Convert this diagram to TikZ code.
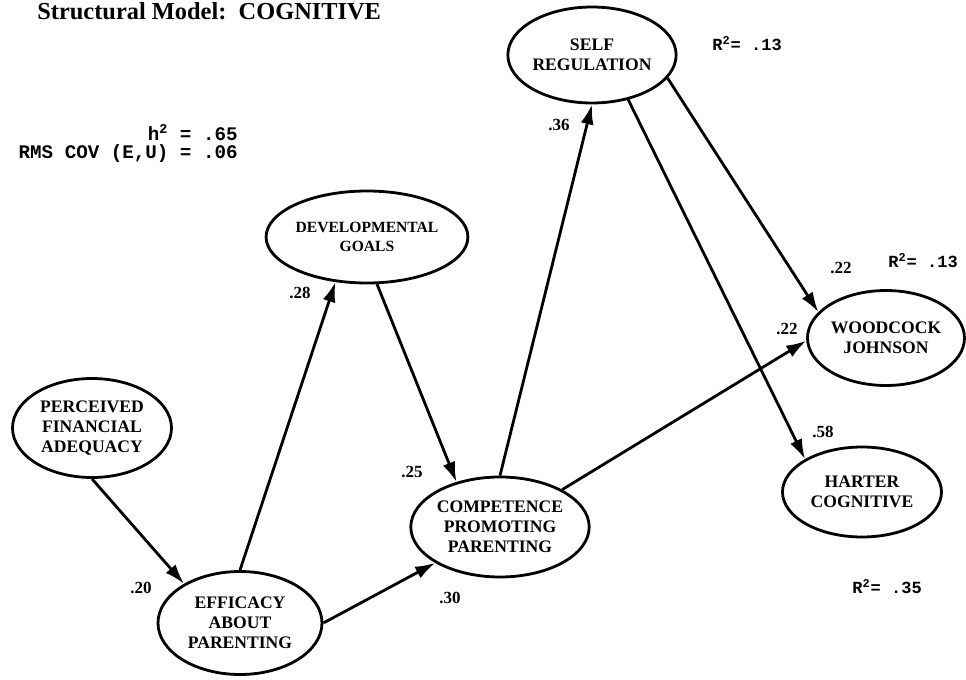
\documentclass[tikz,border=0pt]{standalone}
\usepackage{fontspec}
\setmainfont{Liberation Serif}
\setmonofont{Liberation Mono}
\usetikzlibrary{arrows.meta,shapes.geometric}

\begin{document}
\begin{tikzpicture}[x=0.5pt,y=-0.5pt,
  latent/.style={draw,ellipse,line width=1.4pt,inner sep=0pt,align=center,
    font=\bfseries\fontsize{8.8}{10}\selectfont},
  effect/.style={line width=1.4pt,-{Latex[length=10pt,width=6.5pt]}},
  coef/.style={font=\bfseries\fontsize{8.5}{10}\selectfont},
  rsq/.style={anchor=base west,inner sep=0pt,font=\ttfamily\bfseries\fontsize{8.5}{10}\selectfont}]
\useasboundingbox (0,0) rectangle (966,680);

\node[anchor=base west,inner sep=0pt,font=\bfseries\fontsize{12.2}{14}\selectfont] (title) at (37,19) {Structural Model:\ \ COGNITIVE};
\node[anchor=south east,inner sep=0pt,align=right,font=\ttfamily\bfseries\fontsize{9.6}{9}\selectfont] (fitstats) at (238,163) {h\textsuperscript{2} = .65\\RMS COV (E,U) = .06};

\node[latent,minimum width=79.5pt,minimum height=49.5pt] (perceived) at (92,428) {PERCEIVED\\FINANCIAL\\ADEQUACY};
\node[latent,minimum width=82pt,minimum height=51.5pt] (efficacy) at (240,623) {EFFICACY\\ABOUT\\PARENTING};
\node[latent,minimum width=77.5pt,minimum height=46pt,font=\bfseries\fontsize{7.8}{9.5}\selectfont] (devgoals) at (367,237) {DEVELOPMENTAL\\GOALS};
\node[latent,minimum width=73.5pt,minimum height=50pt] (competence) at (500,527) {COMPETENCE\\PROMOTING\\PARENTING};
\node[latent,minimum width=77.5pt,minimum height=48pt] (selfreg) at (592,55) {SELF\\REGULATION};
\node[latent,minimum width=78.5pt,minimum height=47.5pt] (woodcock) at (886,338) {WOODCOCK\\JOHNSON};
\node[latent,minimum width=79.5pt,minimum height=45pt] (harter) at (862,492) {HARTER\\COGNITIVE};

\draw[effect] (perceived.south) -- (efficacy.145);
\draw[effect] (efficacy.north) -- (devgoals.235);
\draw[effect] (devgoals.282) -- (competence.134);
\draw[effect] (efficacy.east) -- (competence.209);
\draw[effect] (competence.north) -- (selfreg.south);
\draw[effect] (competence.31) -- (woodcock.182);
\draw[effect] (selfreg.343) -- (woodcock.159);
\draw[effect] (selfreg.309) -- (harter.150);

\node[coef] (c36) at (559,125) {.36};
\node[coef] (c28) at (300,293) {.28};
\node[coef] (c22a) at (841,268) {.22};
\node[coef] (c22b) at (787,329) {.22};
\node[coef] (c25) at (412,472) {.25};
\node[coef] (c58) at (823,432) {.58};
\node[coef] (c20) at (141,588) {.20};
\node[coef] (c30) at (450,598) {.30};

\node[rsq] (rsqself) at (712,50) {R\textsuperscript{2}= .13};
\node[rsq] (rsqwood) at (888,267) {R\textsuperscript{2}= .13};
\node[rsq] (rsqhart) at (852,593) {R\textsuperscript{2}= .35};
\end{tikzpicture}
\end{document}
